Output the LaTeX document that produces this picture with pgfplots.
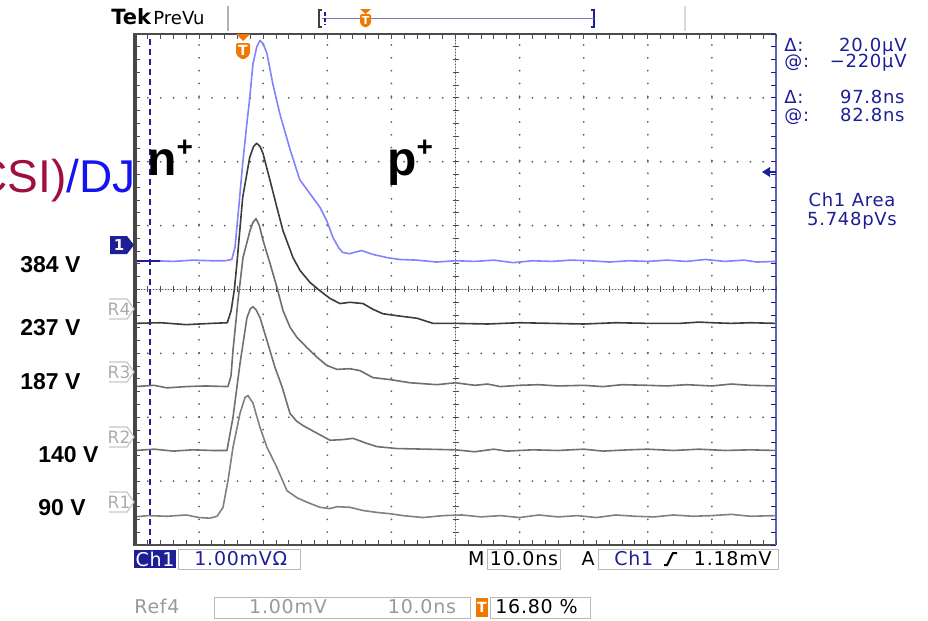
\documentclass[border=0pt]{standalone}
\usepackage{pgfplots}
\pgfplotsset{compat=1.18}
\usepackage{fontspec}
\setmainfont{DejaVu Sans}
\newfontfamily\arial{Liberation Sans}
\newfontfamily\tek[LetterSpace=4]{DejaVu Sans}
\definecolor{tekblue}{RGB}{30,30,150}
\definecolor{traceblue}{RGB}{130,130,255}
\definecolor{tekorange}{RGB}{240,120,0}
\definecolor{maroon}{RGB}{160,16,60}
\definecolor{pureblue}{RGB}{20,20,240}
\begin{document}
\begin{tikzpicture}
\useasboundingbox (0pt,0pt) rectangle (464pt,-310.5pt);
\begin{axis}[at={(67.5pt,-272.5pt)}, anchor=south west, scale only axis,
  width=320.5pt, height=255.5pt,
  xmin=0, xmax=100, ymin=-4, ymax=4,
  axis line style={draw=none},
  xtick={10,20,30,40,60,70,80,90}, ytick={-3,-2,-1,1,2,3},
  xticklabels={}, yticklabels={}, major tick length=0pt,
  grid=major,
  major grid style={line width=1pt, line cap=round, dash pattern=on 0pt off 6.41pt, color=gray!75!black},
  extra x ticks={50}, extra y ticks={0}, extra x tick labels={}, extra y tick labels={},
  extra tick style={grid=major, major grid style={line width=0.5pt, color=gray!70!black, densely dotted}},
  every axis plot/.append style={line width=0.8pt, line join=round}]
% cursor
\addplot[tekblue, line width=0.9pt, dash pattern=on 3pt off 2pt] coordinates {(2.34,-4) (2.34,3.95)};
% R1 90 V
\addplot[color={rgb,255:red,128;green,128;blue,128}] coordinates {
(0,-3.56)(2,-3.54)(5,-3.55)(8,-3.53)(10,-3.57)(11.7,-3.58)(12.8,-3.55)(13.73,-3.41)(14.51,-2.99)(15.29,-2.47)(16.38,-1.94)(17.16,-1.69)(17.63,-1.66)(18.41,-1.78)(19.50,-2.16)(20.59,-2.47)(22.15,-2.79)(23.71,-3.15)(25.27,-3.26)(26.83,-3.33)(28.86,-3.41)(30.42,-3.43)(31.51,-3.40)(33.54,-3.41)(35.57,-3.46)(37.75,-3.49)(39.78,-3.51)(41.81,-3.54)(44.93,-3.57)(48.05,-3.54)(51,-3.53)(54,-3.56)(57,-3.54)(60,-3.57)(63,-3.53)(66,-3.56)(69,-3.54)(72,-3.57)(75,-3.53)(78,-3.55)(81,-3.56)(84,-3.53)(87,-3.55)(90,-3.54)(93,-3.52)(96,-3.55)(100,-3.54)};
% R2 140 V
\addplot[color={rgb,255:red,112;green,112;blue,112}] coordinates {
(0,-2.52)(3,-2.50)(6,-2.53)(9,-2.51)(12,-2.52)(14.35,-2.52)(15.29,-2.00)(16.38,-1.16)(17.47,-0.44)(18.0,-0.30)(18.41,-0.27)(18.9,-0.32)(19.50,-0.44)(20.59,-0.80)(21.84,-1.22)(22.93,-1.52)(24.18,-1.94)(25.2,-2.06)(26.21,-2.13)(28.39,-2.25)(30.42,-2.36)(32.45,-2.35)(34.01,-2.33)(36.19,-2.41)(37.75,-2.46)(40.87,-2.49)(45.55,-2.50)(50,-2.51)(53,-2.54)(56,-2.50)(58,-2.53)(62,-2.51)(66,-2.52)(70,-2.50)(73,-2.53)(77,-2.51)(80,-2.50)(84,-2.52)(88,-2.50)(92,-2.52)(96,-2.51)(100,-2.52)};
% R3 187 V
\addplot[color={rgb,255:red,110;green,110;blue,110}] coordinates {
(0,-1.52)(3,-1.50)(5,-1.54)(8,-1.52)(11,-1.51)(14.5,-1.52)(14.98,-1.35)(15.29,-0.95)(16.07,-0.17)(16.85,0.50)(17.94,0.92)(18.4,1.05)(18.88,1.11)(19.4,1.0)(19.97,0.77)(21.06,0.41)(22.15,0.03)(23.09,-0.33)(24.18,-0.59)(25.27,-0.75)(26.83,-0.91)(28.39,-1.06)(29.95,-1.19)(31.51,-1.25)(33.54,-1.24)(35.10,-1.27)(37.13,-1.38)(39.78,-1.41)(42.90,-1.46)(47.11,-1.49)(50,-1.46)(53,-1.50)(55,-1.48)(57,-1.52)(60,-1.50)(63,-1.49)(66,-1.51)(70,-1.50)(73,-1.52)(76,-1.49)(80,-1.50)(83,-1.51)(86,-1.49)(90,-1.51)(93,-1.48)(96,-1.50)(100,-1.51)};
% R4 237 V
\addplot[color={rgb,255:red,60;green,60;blue,60}] coordinates {
(0,-0.53)(4,-0.52)(8,-0.55)(12,-0.53)(14.4,-0.52)(15.0,-0.33)(15.5,0.0)(15.9,0.41)(16.8,1.44)(17.9,2.07)(18.5,2.24)(19.0,2.29)(19.5,2.24)(19.97,2.13)(21.06,1.71)(22.15,1.28)(23.09,0.92)(24.65,0.50)(25.74,0.30)(27.30,0.11)(28.86,-0.02)(30.42,-0.14)(31.98,-0.22)(33.54,-0.20)(35.57,-0.22)(37.13,-0.31)(38.69,-0.38)(40.87,-0.41)(43.99,-0.45)(46.49,-0.53)(50,-0.53)(55,-0.54)(60,-0.52)(65,-0.53)(70,-0.54)(75,-0.52)(80,-0.53)(85,-0.53)(88,-0.51)(90,-0.52)(93,-0.53)(96,-0.52)(100,-0.53)};
% Ch1 384 V
\addplot[traceblue] coordinates {
(0,0.44)(3,0.45)(6,0.44)(9,0.46)(12,0.45)(14,0.45)(15.1,0.47)(15.6,0.66)(16.2,1.3)(16.8,1.97)(17.4,2.55)(17.9,3.0)(18.4,3.53)(19.0,3.80)(19.5,3.90)(20.0,3.85)(20.6,3.69)(21.5,3.22)(22.6,2.75)(24.2,2.19)(25.7,1.72)(27.3,1.50)(28.9,1.28)(29.9,1.08)(30.9,0.81)(31.8,0.65)(32.4,0.58)(33.5,0.56)(34.5,0.59)(35.4,0.61)(36.2,0.58)(37.1,0.55)(39.3,0.50)(41.3,0.47)(44,0.46)(47,0.43)(50,0.45)(53,0.44)(56,0.46)(59,0.42)(62,0.45)(65,0.44)(68,0.46)(71,0.45)(74,0.43)(77,0.45)(80,0.44)(83,0.46)(86,0.44)(89,0.47)(92,0.44)(95,0.46)(97,0.43)(100,0.44)};
\end{axis}
\begin{scope}[x=0.5pt,y=-0.5pt]
% frame
\draw[line width=1.6pt, gray!55!black] (135,33) -- (135,546);
\draw[line width=0.9pt, gray!60!black] (134,34) -- (776,34);
\draw[line width=0.9pt, gray!60!black] (134,545) -- (776,545);
\draw[line width=0.8pt, tekblue!70] (776,34) -- (776,545);
\foreach \i in {0,...,50} {
  \draw[gray!60!black, line width=0.5pt] (135+\i*12.82,34) -- ++(0,5);
  \draw[gray!60!black, line width=0.5pt] (135+\i*12.82,545) -- ++(0,-5);
  \draw[gray!60!black, line width=0.5pt] (135+\i*12.82,286) -- (135+\i*12.82,292);
}
\foreach \j in {0,...,40} {
  \draw[gray!60!black, line width=0.5pt] (135,34+\j*12.775) -- ++(5,0);
  \draw[tekblue, line width=0.5pt] (776,34+\j*12.775) -- ++(-5,0);
  \draw[gray!60!black, line width=0.5pt] (452.5,34+\j*12.775) -- (458.5,34+\j*12.775);
}
% trigger marker
\fill[tekorange] (236,34) -- (250,34) -- (243,41) -- cycle;
\fill[tekorange, rounded corners=1pt] (236,43) -- (250,43) -- (250,55) -- (243,60) -- (236,55) -- cycle;
\node[white, font=\bfseries\fontsize{7}{8}\selectfont, inner sep=0] at (243,50) {T};
% Ch1 and ref markers
\fill[tekblue] (110,236) -- (127,236) -- (134,245) -- (127,254) -- (110,254) -- cycle;
\node[white, font=\bfseries\fontsize{7.5}{8}\selectfont, inner sep=0] at (119,245) {1};
\foreach \y/\t in {309/R4,372/R3,437/R2,502/R1} {
  \draw[gray!45, line width=0.6pt] (109,\y-10) -- (127,\y-10) -- (134,\y) -- (127,\y+10) -- (109,\y+10);
  \node[gray!65, font=\fontsize{8.5}{9}\selectfont, inner sep=0] at (119,\y) {\t};
}
\draw[tekblue, line width=0.9pt] (137,261) -- (160,261);
% trigger level arrow right
\fill[tekblue] (762,172) -- (770,167) -- (770,177) -- cycle;
\draw[tekblue, line width=0.8pt] (770,172) -- (776,172);
% top bar
\node[anchor=base west, inner sep=0, font=\bfseries\fontsize{10.5}{12}\selectfont] at (111,25) {Tek};
\node[anchor=base west, inner sep=0, font=\fontsize{9}{11}\selectfont] at (153,25) {PreVu};
\draw[gray!60, line width=0.6pt] (228,6) -- (228,31);
\draw[gray!30, line width=0.6pt] (685,6) -- (685,31);
\draw[gray!50!black, line width=0.6pt] (322,10) -- (319,10) -- (319,27) -- (322,27);
\draw[tekblue, line width=0.8pt] (591,10) -- (594,10) -- (594,27) -- (591,27);
\draw[tekblue!60, line width=0.8pt] (322,18.5) -- (594,18.5);
\draw[tekblue, line width=0.8pt, dash pattern=on 2pt off 1pt] (325,12) -- (325,25);
\fill[tekorange] (360,9) -- (371,9) -- (365.5,14) -- cycle;
\fill[tekorange, rounded corners=0.8pt] (360,14) -- (371,14) -- (371,24) -- (365.5,28) -- (360,24) -- cycle;
\node[white, font=\bfseries\fontsize{5.5}{6}\selectfont, inner sep=0] at (365.5,20) {T};
% right panel
\begin{scope}[tekblue, font=\tek\fontsize{9}{11}\selectfont]
\node[anchor=base west, inner sep=0] at (784,51) {Δ:};
\node[anchor=base east, inner sep=0] at (907,51) {20.0µV};
\node[anchor=base west, inner sep=0] at (784,68) {@:};
\node[anchor=base east, inner sep=0] at (907,68) {−220µV};
\node[anchor=base west, inner sep=0] at (784,103) {Δ:};
\node[anchor=base east, inner sep=0] at (905,103) {97.8ns};
\node[anchor=base west, inner sep=0] at (784,121) {@:};
\node[anchor=base east, inner sep=0] at (905,121) {82.8ns};
\node[anchor=base, inner sep=0] at (852,206) {Ch1 Area};
\node[anchor=base, inner sep=0] at (852,225) {5.748pVs};
\end{scope}
% bottom bar
\fill[tekblue] (134,550) rectangle (176,568);
\node[white, font=\tek\fontsize{9.5}{11}\selectfont, inner sep=0] at (155,559) {Ch1};
\draw[gray!55, line width=0.5pt] (178,549) rectangle (300,569);
\node[anchor=base west, tekblue, font=\tek\fontsize{9.5}{11}\selectfont, inner sep=0] at (194,565) {1.00mVΩ};
\node[anchor=base east, font=\tek\fontsize{9.5}{11}\selectfont, inner sep=0] at (485,565) {M};
\draw[gray!55, line width=0.5pt] (487,549) rectangle (560,569);
\node[anchor=base, font=\tek\fontsize{9.5}{11}\selectfont, inner sep=0] at (524,565) {10.0ns};
\node[anchor=base, font=\tek\fontsize{9.5}{11}\selectfont, inner sep=0] at (588,565) {A};
\draw[gray!55, line width=0.5pt] (598,549) rectangle (778,569);
\node[anchor=base west, tekblue, font=\tek\fontsize{9.5}{11}\selectfont, inner sep=0] at (614,565) {Ch1};
\draw[line width=1pt] (664,565) -- (667,565) .. controls (670,560) and (671,556) .. (673,553) -- (677,553);
\node[anchor=base east, font=\tek\fontsize{9.5}{11}\selectfont, inner sep=0] at (772,565) {1.18mV};
% second row
\node[anchor=base west, gray!80, font=\tek\fontsize{9.5}{11}\selectfont, inner sep=0] at (134,613) {Ref4};
\draw[gray!55, line width=0.5pt] (214,597) rectangle (470,618);
\node[anchor=base, gray!80, font=\tek\fontsize{9.5}{11}\selectfont, inner sep=0] at (288,613) {1.00mV};
\node[anchor=base, gray!80, font=\tek\fontsize{9.5}{11}\selectfont, inner sep=0] at (422,613) {10.0ns};
\fill[tekorange] (476,598) rectangle (488,617);
\node[white, font=\bfseries\fontsize{7}{8}\selectfont, inner sep=0] at (482,607.5) {T};
\draw[gray!55, line width=0.5pt] (490,597) rectangle (590,618);
\node[anchor=base west, font=\tek\fontsize{9.5}{11}\selectfont, inner sep=0] at (495,613) {16.80 \%};
% annotations
\begin{scope}[font=\arial\bfseries\fontsize{11.5}{13}\selectfont]
\node[anchor=base west, inner sep=0] at (20,272) {384 V};
\node[anchor=base west, inner sep=0] at (20,335) {237 V};
\node[anchor=base west, inner sep=0] at (20,389) {187 V};
\node[anchor=base west, inner sep=0] at (38,462) {140 V};
\node[anchor=base west, inner sep=0] at (38,515) {90 V};
\end{scope}
\node[anchor=base west, inner sep=0, font=\arial\bfseries\fontsize{24}{26}\selectfont] at (147,175) {n\raisebox{0.38em}{\fontsize{14}{14}\selectfont +}};
\node[anchor=base west, inner sep=0, font=\arial\bfseries\fontsize{24}{26}\selectfont] at (387,175) {p\raisebox{0.38em}{\fontsize{14}{14}\selectfont +}};
\node[anchor=base east, inner sep=0, font=\arial\fontsize{23}{26}\selectfont] at (136,192) {\textcolor{maroon}{CSI)}\textcolor{pureblue}{/DJ}};
\end{scope}
\end{tikzpicture}
\end{document}
